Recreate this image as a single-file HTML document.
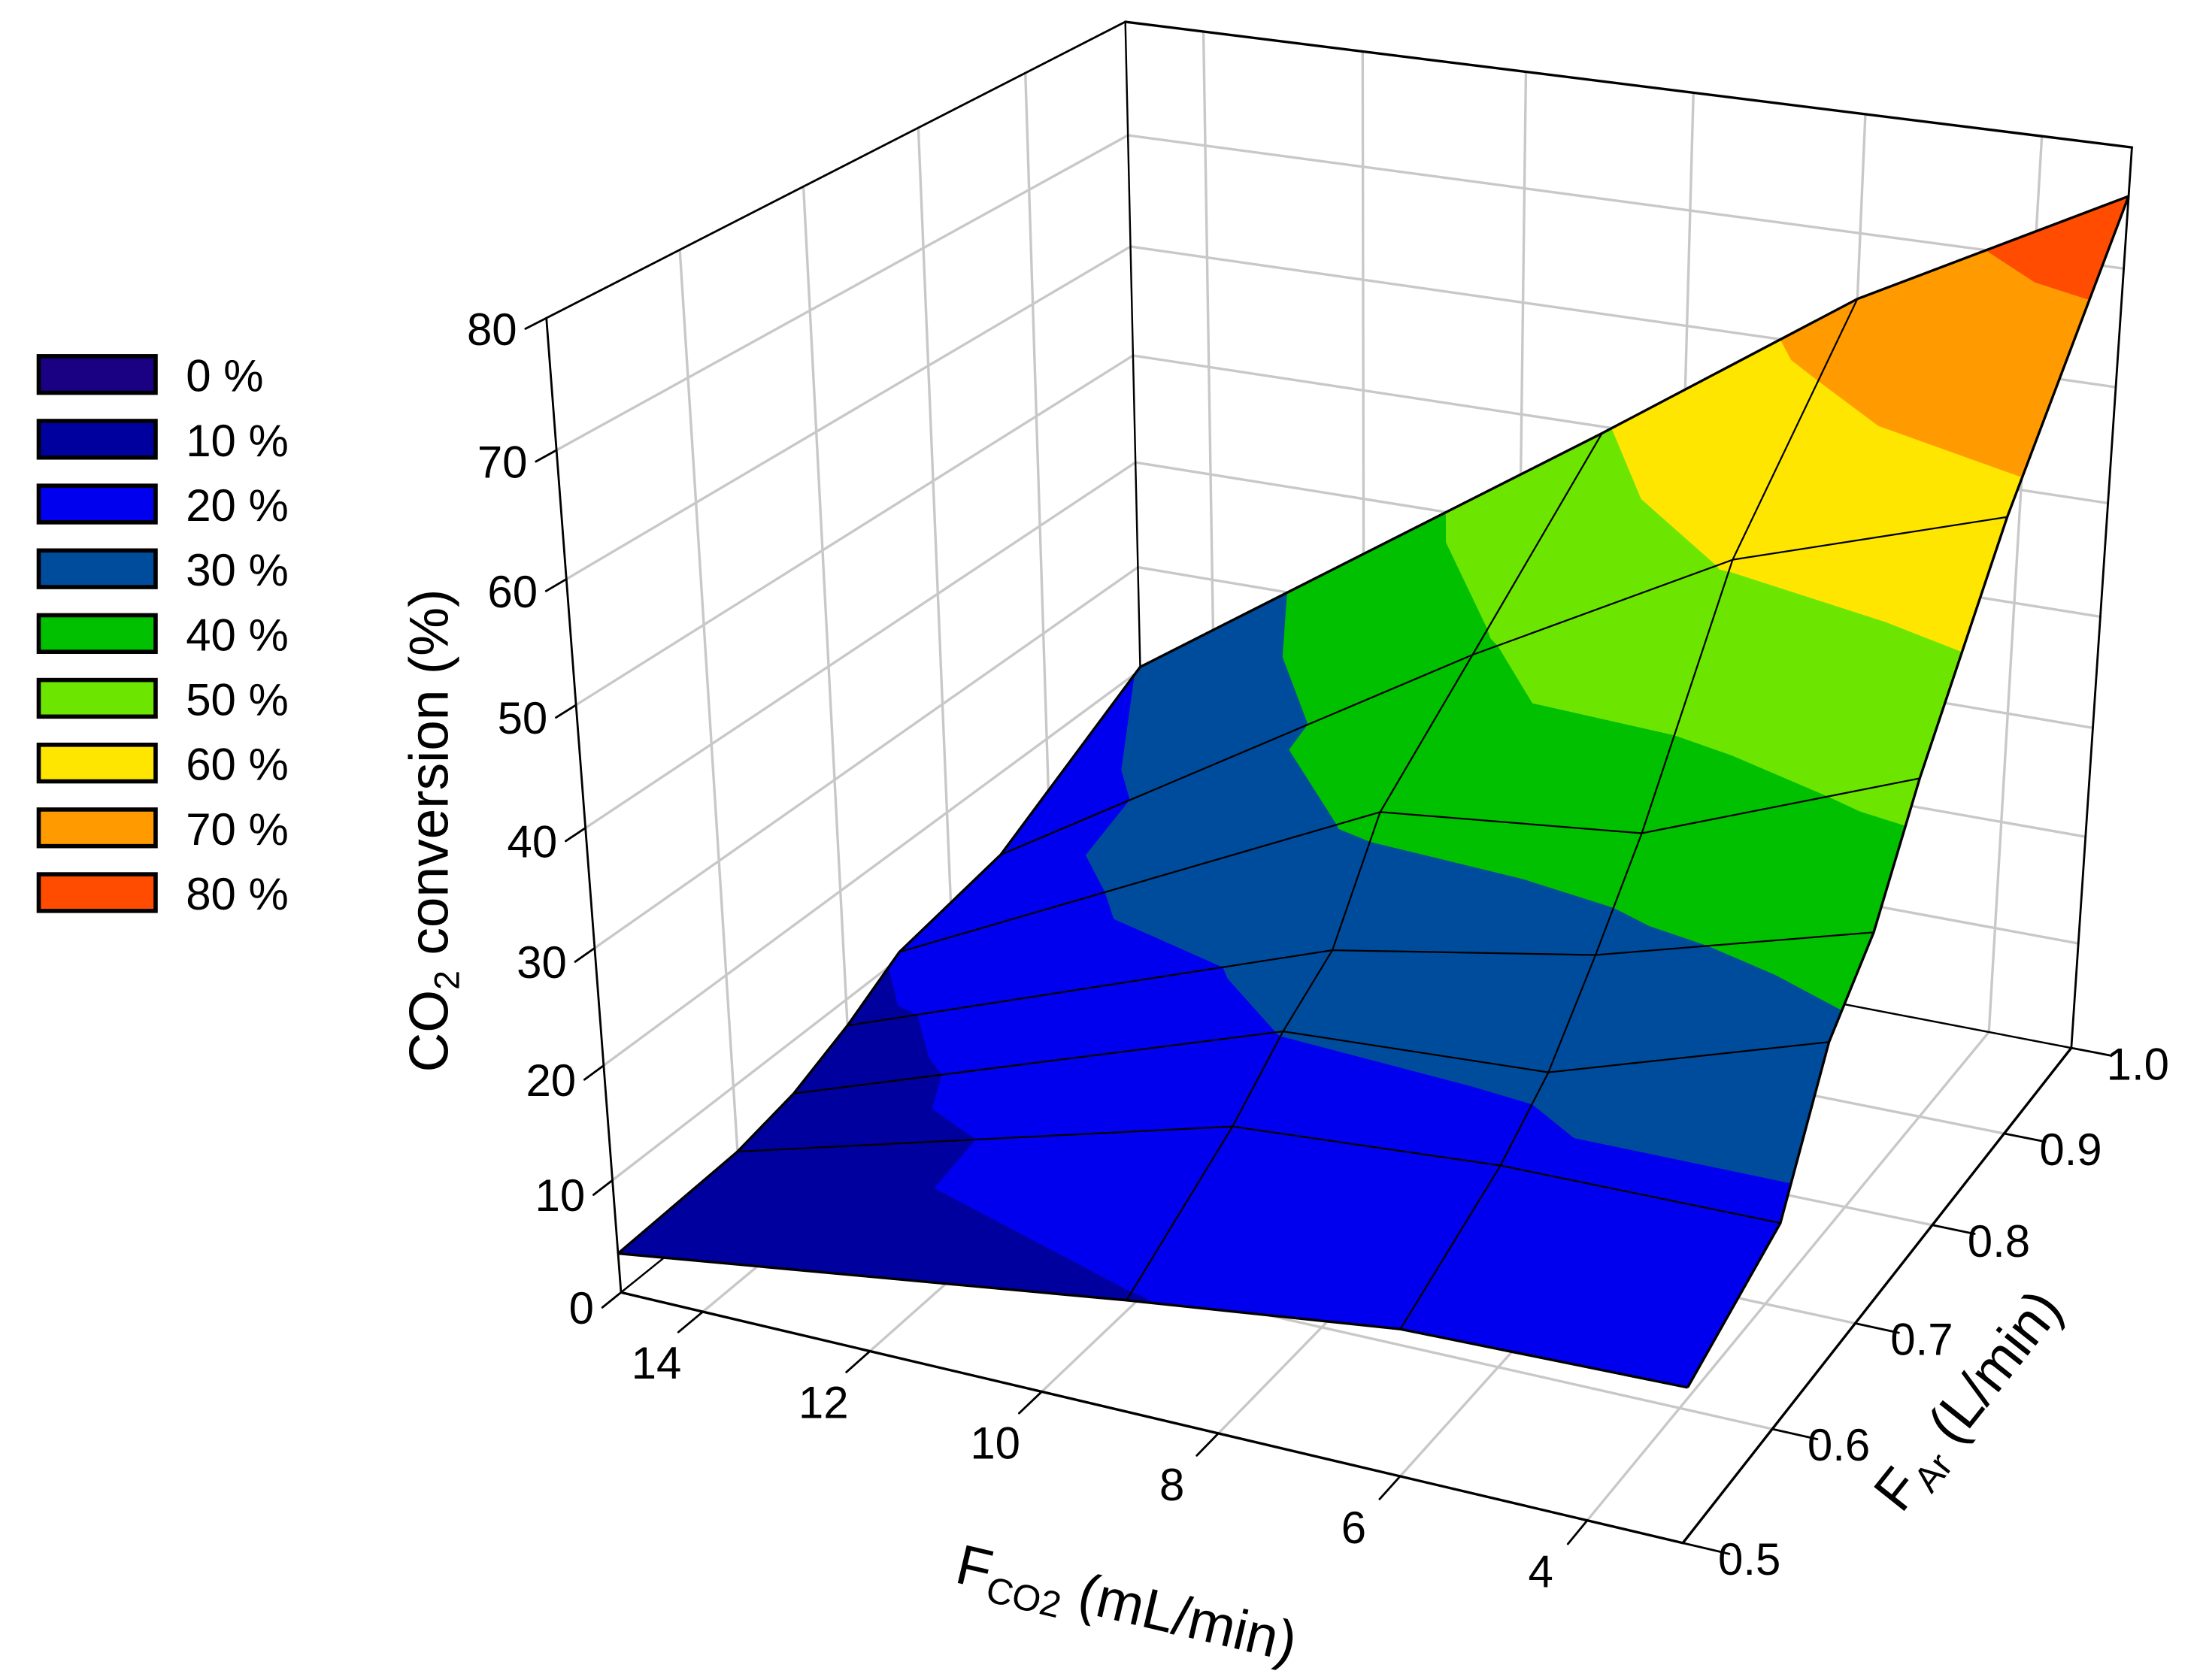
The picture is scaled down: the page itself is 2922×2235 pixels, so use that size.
<!DOCTYPE html>
<html>
<head>
<meta charset="utf-8">
<style>
html,body{margin:0;padding:0;background:#fff;}
svg{display:block;}
text{font-family:"Liberation Sans",Arial,sans-serif;fill:#000;}
</style>
</head>
<body>
<svg id="chart" xmlns="http://www.w3.org/2000/svg" width="2922" height="2235" viewBox="0 0 1560.1 1193.3">
  <rect x="0" y="0" width="1560.1" height="1193.3" fill="#fff"/>
  <g id="walls"></g>
  <g id="backbox"></g>
  <g id="surface"></g>
  <g id="meshlines"></g>
  <g id="frontbox"></g>
  <g id="labels"></g>
  <text transform="translate(318,590) rotate(-90)" text-anchor="middle" font-size="39">CO<tspan font-size="25" dy="8">2</tspan><tspan dy="-8"> conversion (%)</tspan></text>
  <text transform="translate(797,1152) rotate(13.3)" text-anchor="middle" font-size="40">F<tspan font-size="26" dy="8">CO2</tspan><tspan dy="-8"> (mL/min)</tspan></text>
  <text transform="translate(1408,1003) rotate(-51.5)" text-anchor="middle" font-size="40">F<tspan font-size="26" dy="8">Ar</tspan><tspan dy="-8"> (L/min)</tspan></text>
  <g id="legend"></g>
</svg>
<script>
// ---- data ----
const fco2 = [15, 9, 6, 3];
const far = [0.5, 0.6, 0.65, 0.7, 0.75, 0.85, 1.0];
const convAr050 = [3.5, 9.7, 12.5, 13.0];
const convAr060 = [4.1, 16.0, 17.5, 17.6];
const convAr065 = [5.3, 20.2, 21.3, 28.5];
const convAr070 = [7.6, 23.4, 27.4, 33.7];
const convAr075 = [10.6, 31.8, 34.1, 42.8];
const convAr085 = [12.4, 38.8, 50.7, 57.8];
const convAr100 = [20.3, 49.4, 64.4, 76.0];
const zTicks = [0, 10, 20, 30, 40, 50, 60, 70, 80];
const fTicks = [14, 12, 10, 8, 6, 4];
const arTicks = [0.5, 0.6, 0.7, 0.8, 0.9, 1.0];
const legendLabels = ["0 %", "10 %", "20 %", "30 %", "40 %", "50 %", "60 %", "70 %", "80 %"];
const legendColors = ["#1a0082", "#00009e", "#0000ee", "#004c9c", "#00c000", "#6ce600", "#ffe600", "#ff9b00", "#ff4c00"];

const conv = [convAr050, convAr060, convAr065, convAr070, convAr075, convAr085, convAr100];
const NS = "http://www.w3.org/2000/svg";
const F_MAX = 15, F_MIN = 3, AR_MIN = 0.5, AR_MAX = 1.0, Z_MAX = 80;

function proj(u, v, w) {
  const X = 441 + 656.8 * u + 518.5 * v - 87.57 * w;
  const Y = 918 + 88.83 * u - 188.88 * v - 712.2 * w;
  const D = 1 - 0.08134 * u + 0.18023 * v - 0.08908 * w;
  return [X / D, Y / D];
}
function uOf(f) { return (F_MAX - f) / (F_MAX - F_MIN); }
function vOf(a) { return (a - AR_MIN) / (AR_MAX - AR_MIN); }
function wOf(z) { return z / Z_MAX; }
function P(f, a, z) { return proj(uOf(f), vOf(a), wOf(z)); }

function line(g, p1, p2, stroke, width, name) {
  const el = document.createElementNS(NS, "line");
  
  
  el.setAttribute("x1", p1[0].toFixed(2)); el.setAttribute("y1", p1[1].toFixed(2));
  el.setAttribute("x2", p2[0].toFixed(2)); el.setAttribute("y2", p2[1].toFixed(2));
  el.setAttribute("stroke", stroke); el.setAttribute("stroke-width", width);
  el.setAttribute("stroke-linecap", "round");
  g.appendChild(el);
}
function poly(g, pts, attrs, name, tag) {
  const el = document.createElementNS(NS, tag || "polygon");
  
  
  el.setAttribute("points", pts.map(p => p[0].toFixed(2) + "," + p[1].toFixed(2)).join(" "));
  for (const k in attrs) el.setAttribute(k, attrs[k]);
  g.appendChild(el);
}
function text(g, x, y, s, anchor, size, name) {
  const el = document.createElementNS(NS, "text");
  
  
  el.setAttribute("x", x.toFixed(2)); el.setAttribute("y", y.toFixed(2));
  el.setAttribute("text-anchor", anchor); el.setAttribute("font-size", size);
  el.textContent = s;
  g.appendChild(el);
}

const gWalls = document.getElementById("walls");
const gBack = document.getElementById("backbox");
const gSurf = document.getElementById("surface");
const gMesh = document.getElementById("meshlines");
const gFront = document.getElementById("frontbox");
const gLab = document.getElementById("labels");
const GRID = "#c8c8c8", GW = 1.8;

zTicks.slice(1, -1).forEach(z => {
  line(gWalls, P(F_MAX, AR_MIN, z), P(F_MAX, AR_MAX, z), GRID, GW, "left-wall-gridline-z");
  line(gWalls, P(F_MAX, AR_MAX, z), P(F_MIN, AR_MAX, z), GRID, GW, "back-wall-gridline-z");
});
arTicks.slice(1, -1).forEach(a => {
  line(gWalls, P(F_MAX, a, 0), P(F_MAX, a, Z_MAX), GRID, GW, "left-wall-gridline-ar");
  line(gWalls, P(F_MAX, a, 0), P(F_MIN, a, 0), GRID, GW, "floor-gridline-ar");
});
fTicks.forEach(f => {
  line(gWalls, P(f, AR_MAX, 0), P(f, AR_MAX, Z_MAX), GRID, GW, "back-wall-gridline-f");
  line(gWalls, P(f, AR_MIN, 0), P(f, AR_MAX, 0), GRID, GW, "floor-gridline-f");
});

line(gBack, P(F_MAX, AR_MIN, 0), P(F_MAX, AR_MAX, 0), "#000", 1.3, "floor-back-left-edge");
line(gBack, P(F_MAX, AR_MAX, 0), P(F_MIN, AR_MAX, 0), "#000", 1.3, "floor-back-right-edge");
line(gBack, P(F_MAX, AR_MAX, 0), P(F_MAX, AR_MAX, Z_MAX), "#000", 1.3, "back-vertical-edge");
line(gBack, P(F_MAX, AR_MIN, Z_MAX), P(F_MAX, AR_MAX, Z_MAX), "#000", 1.5, "top-left-edge");
line(gBack, P(F_MAX, AR_MAX, Z_MAX), P(F_MIN, AR_MAX, Z_MAX), "#000", 1.8, "top-right-edge");

function clip(pts, lo, keepAbove) {
  const out = [];
  for (let i = 0; i < pts.length; i++) {
    const a = pts[i], b = pts[(i + 1) % pts.length];
    const ina = keepAbove ? a.z >= lo : a.z <= lo;
    const inb = keepAbove ? b.z >= lo : b.z <= lo;
    if (ina) out.push(a);
    if (ina !== inb) {
      const t = (lo - a.z) / (b.z - a.z);
      out.push({ u: a.u + t * (b.u - a.u), v: a.v + t * (b.v - a.v), z: lo });
    }
  }
  return out;
}
for (let j = far.length - 2; j >= 0; j--) {
  for (let i = 0; i < fco2.length - 1; i++) {
    const n = (jj, ii) => ({ u: uOf(fco2[ii]), v: vOf(far[jj]), z: conv[jj][ii] });
    const tris = [[n(j, i), n(j, i + 1), n(j + 1, i + 1)], [n(j, i), n(j + 1, i + 1), n(j + 1, i)]];
    tris.forEach(tri => {
      for (let k = -1; k < 9; k++) {
        let p = tri;
        if (k >= 0) p = clip(p, k * 10, true);
        if (p.length < 3) continue;
        if (k < 8) p = clip(p, (k + 1) * 10, false);
        if (p.length < 3) continue;
        const col = legendColors[Math.min(k + 1, 8)];
        poly(gSurf, p.map(q => proj(q.u, q.v, wOf(q.z))),
          { fill: col, stroke: col, "stroke-width": 0.6, "stroke-linejoin": "round" }, "contour-band-" + (k + 1) * 10);
      }
    });
  }
}

far.forEach((a, j) => {
  const pts = fco2.map((f, i) => P(f, a, conv[j][i]));
  const edge = (j === 0 || j === far.length - 1);
  poly(gMesh, pts, { fill: "none", stroke: "#000", "stroke-width": edge ? 1.8 : 1.2, "stroke-linejoin": "round" }, "mesh-line-ar", "polyline");
});
fco2.forEach((f, i) => {
  const pts = far.map((a, j) => P(f, a, conv[j][i]));
  const edge = (i === 0 || i === fco2.length - 1);
  poly(gMesh, pts, { fill: "none", stroke: "#000", "stroke-width": edge ? 1.8 : 1.2, "stroke-linejoin": "round" }, "mesh-line-fco2", "polyline");
});

line(gFront, P(F_MAX, AR_MIN, 0), P(F_MAX, AR_MIN, Z_MAX), "#000", 1.5, "z-axis-line");
line(gFront, P(F_MIN, AR_MAX, 0), P(F_MIN, AR_MAX, Z_MAX), "#000", 1.5, "right-vertical-edge");
line(gFront, P(F_MAX, AR_MIN, 0), P(F_MIN, AR_MIN, 0), "#000", 1.8, "x-axis-line");
line(gFront, P(F_MIN, AR_MIN, 0), P(F_MIN, AR_MAX, 0), "#000", 1.8, "y-axis-line");

zTicks.forEach(z => {
  const a = proj(0, 0, wOf(z)), b = proj(0, -0.03, wOf(z));
  line(gFront, a, b, "#000", 1.5, "z-tick");
  text(gLab, b[0] - 6, b[1] + 11.5, String(z), "end", 32, "z-tick-label");
});
fTicks.forEach(f => {
  const a = proj(uOf(f), 0, 0), b = proj(uOf(f), -0.04, 0);
  line(gFront, a, b, "#000", 1.5, "x-tick");
  text(gLab, a[0] - 33, a[1] + 47.5, String(f), "middle", 32, "x-tick-label");
});
arTicks.forEach(ar => {
  const a = proj(1, vOf(ar), 0), b = proj(1.04, vOf(ar), 0);
  line(gFront, a, b, "#000", 1.5, "y-tick");
  text(gLab, a[0] + 25, a[1] + 22.5, ar.toFixed(1), "start", 32, "y-tick-label");
});

const gLeg = document.getElementById("legend");
legendLabels.forEach((s, i) => {
  const y = 253 + i * 46;
  const r = document.createElementNS(NS, "rect");
  
  
  r.setAttribute("x", 27.5); r.setAttribute("y", y);
  r.setAttribute("width", 83); r.setAttribute("height", 26);
  r.setAttribute("fill", legendColors[i]); r.setAttribute("stroke", "#000"); r.setAttribute("stroke-width", 3);
  gLeg.appendChild(r);
  text(gLeg, 132, y + 25, s, "start", 32, "legend-label");
});
</script>
</body>
</html>
